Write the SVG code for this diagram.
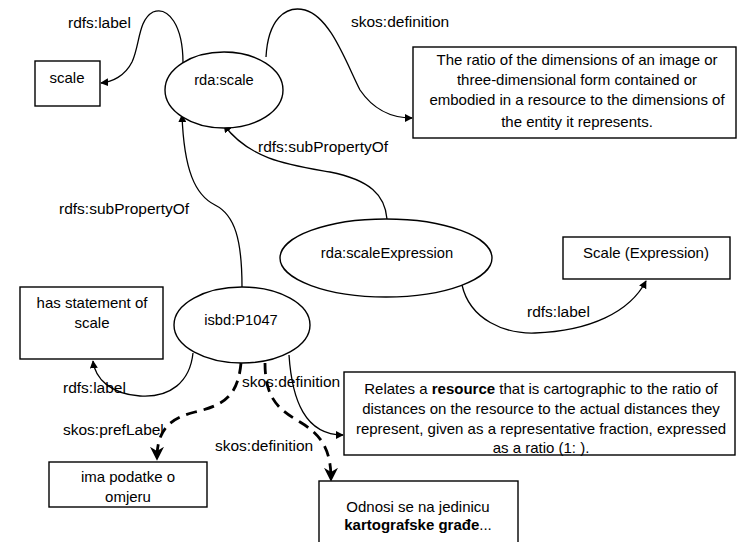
<svg xmlns="http://www.w3.org/2000/svg" width="737" height="542" viewBox="0 0 737 542">
<style>
text{font-family:"Liberation Sans",Arial,sans-serif;fill:#000}
.n{font-size:14.7px;text-anchor:middle}
.b{font-size:15px;text-anchor:middle}
.l{font-size:15.5px}
.shape{fill:#fff;stroke:#000;stroke-width:1.4}
.c{fill:none;stroke:#000;stroke-width:1.3}
.d{fill:none;stroke:#000;stroke-width:2.8;stroke-dasharray:11 7}
.bold{font-weight:bold}
</style>
<defs>
<marker id="a" viewBox="0 0 10 10" refX="9" refY="5" markerWidth="8" markerHeight="8" markerUnits="userSpaceOnUse" orient="auto">
<path d="M0,0 L10,5 L0,10 z" fill="#000"/>
</marker>
<marker id="ad" viewBox="0 0 10 10" refX="8" refY="5" markerWidth="5" markerHeight="5" orient="auto">
<path d="M0,0 L10,5 L0,10 L3,5 z" fill="#000"/>
</marker>
</defs>
<g id="connectors">
<path class="c" d="M183,63 C183,25 168,6 153,12 C138,20 140,45 132,62 C125,76 112,82 101,83" marker-end="url(#a)"/>
<path class="c" d="M266,57 C268,20 285,5 305,10 C330,17 345,60 360,90 C375,112 395,118 412,118" marker-end="url(#a)"/>
<path class="c" d="M387,219 C385,195 370,180 330,172 C290,165 250,160 224,125" marker-end="url(#a)"/>
<path class="c" d="M242,287 C242,240 235,215 215,205 C195,195 184,170 182,115" marker-end="url(#a)"/>
<path class="c" d="M462,285 C470,320 505,334 535,333 C590,331 630,312 646,281" marker-end="url(#a)"/>
<path class="c" d="M193,353 C190,382 170,398 140,396 C110,394 95,378 93,361" marker-end="url(#a)"/>
<path class="c" d="M289,355 C292,400 305,435 343,435" marker-end="url(#a)"/>
<path class="d" d="M241,363 C238,395 225,405 195,412 C170,418 157,430 157,458" marker-end="url(#ad)"/>
<path class="d" d="M265,363 C265,400 280,410 300,422 C320,434 331,448 331,479" marker-end="url(#ad)"/>
<text class="l" x="68" y="28">rdfs:label</text>
<text class="l" x="351" y="27">skos:definition</text>
<text class="l" x="258" y="152">rdfs:subPropertyOf</text>
<text class="l" x="59" y="214">rdfs:subPropertyOf</text>
<text class="l" x="527" y="317">rdfs:label</text>
<text class="l" x="63" y="393">rdfs:label</text>
<text class="l" x="242" y="387">skos:definition</text>
<text class="l" x="63" y="435">skos:prefLabel</text>
<text class="l" x="215" y="451">skos:definition</text>
</g>
<g id="scale-box">
<rect class="shape" x="35" y="61" width="65" height="45"/>
<text class="b" x="67" y="83">scale</text>
</g>
<g id="rda-scale">
<ellipse class="shape" cx="224" cy="90" rx="59" ry="38"/>
<text class="n" x="224" y="85">rda:scale</text>
</g>
<g id="rda-scale-def">
<rect class="shape" x="413" y="47" width="323" height="91"/>
<text class="b" x="577" y="65">The ratio of the dimensions of an image or</text>
<text class="b" x="577" y="85">three-dimensional form contained or</text>
<text class="b" x="577" y="105">embodied in a resource to the dimensions of</text>
<text class="b" x="577" y="127">the entity it represents.</text>
</g>
<g id="rda-scaleExpression">
<ellipse class="shape" cx="386" cy="258" rx="106" ry="39"/>
<text class="n" x="387" y="258">rda:scaleExpression</text>
</g>
<g id="scale-expression-box">
<rect class="shape" x="563" y="237" width="167" height="42"/>
<text class="b" x="646" y="258">Scale (Expression)</text>
</g>
<g id="has-statement">
<rect class="shape" x="20" y="287" width="143" height="72"/>
<text class="b" x="92" y="308">has statement of</text>
<text class="b" x="92" y="328">scale</text>
</g>
<g id="isbd-P1047">
<ellipse class="shape" cx="242" cy="325" rx="68" ry="38"/>
<text class="n" x="241" y="325">isbd:P1047</text>
</g>
<g id="isbd-def-en">
<rect class="shape" x="344" y="372" width="391" height="83"/>
<text class="b" x="541" y="394">Relates a <tspan class="bold">resource</tspan> that is cartographic to the ratio of</text>
<text class="b" x="541" y="414">distances on the resource to the actual distances they</text>
<text class="b" x="541" y="434">represent, given as a representative fraction, expressed</text>
<text class="b" x="541" y="453">as a ratio (1: ).</text>
</g>
<g id="ima-podatke">
<rect class="shape" x="49" y="462" width="158" height="45"/>
<text class="b" x="128" y="482">ima podatke o</text>
<text class="b" x="128" y="502">omjeru</text>
</g>
<g id="odnosi">
<rect class="shape" x="319" y="481" width="199" height="70"/>
<text class="b" x="418" y="512">Odnosi se na jedinicu</text>
<text class="b" x="418" y="530"><tspan class="bold">kartografske građe</tspan>...</text>
</g>
</svg>
